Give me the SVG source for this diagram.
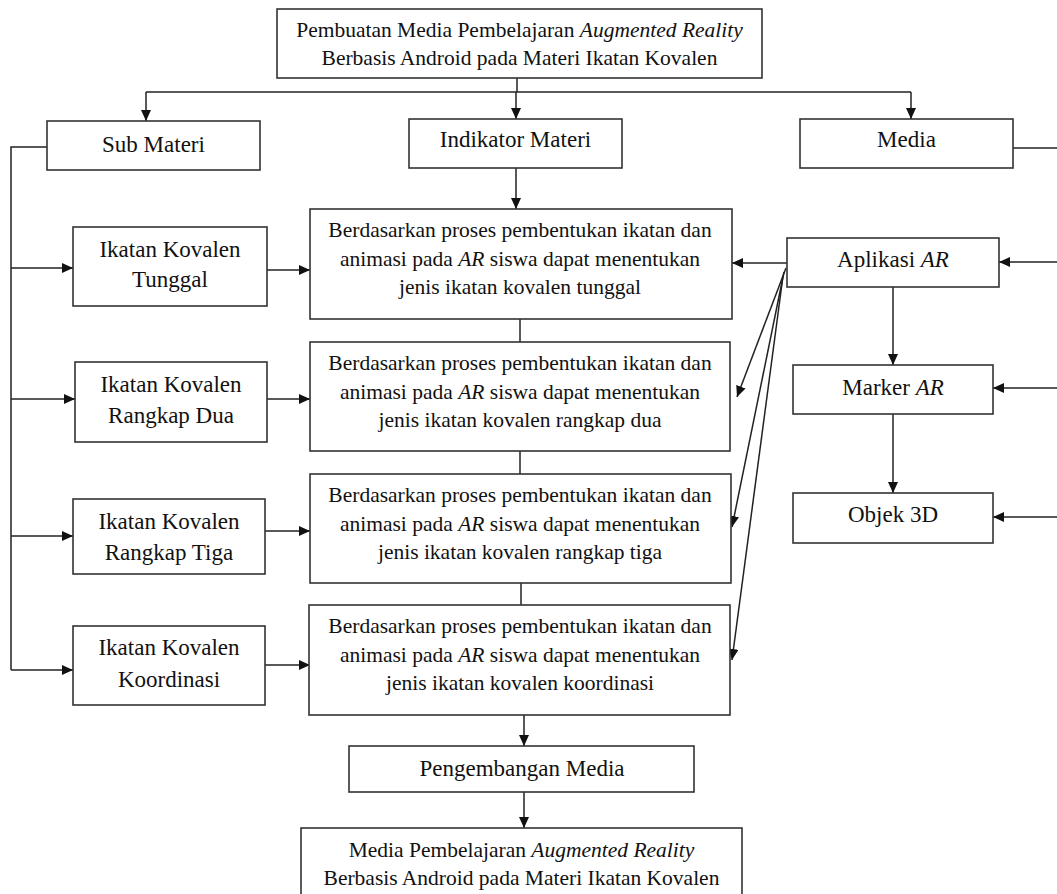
<svg xmlns="http://www.w3.org/2000/svg" width="1057" height="894" viewBox="0 0 1057 894">
<style>
rect{fill:#fff;stroke:#333;stroke-width:1.6}
text{font-family:"Liberation Serif","Times New Roman",serif;fill:#111;text-anchor:middle}
.l{font-size:21.5px}
.m{font-size:23px}
.c line,.c polyline{stroke:#222;stroke-width:1.5;fill:none}
.a{marker-end:url(#ah)}
</style>
<defs>
<marker id="ah" markerUnits="userSpaceOnUse" markerWidth="12" markerHeight="11" refX="11" refY="5" orient="auto">
<path d="M0,0 L11,5 L0,10 z" fill="#111"/>
</marker>
</defs>
<rect x="0" y="0" width="1057" height="894" style="fill:#fff;stroke:none"/>
<g class="c" id="connectors">
<line x1="517" y1="78" x2="517" y2="92"/>
<polyline points="146,92 911,92"/>
<line class="a" x1="146" y1="92" x2="146" y2="121"/>
<line class="a" x1="516" y1="92" x2="516" y2="119"/>
<line class="a" x1="911" y1="92" x2="911" y2="119"/>
<polyline points="47,147 11,147 11,670"/>
<line class="a" x1="11" y1="268" x2="73" y2="268"/>
<line class="a" x1="11" y1="399" x2="75" y2="399"/>
<line class="a" x1="11" y1="536" x2="73" y2="536"/>
<line class="a" x1="11" y1="670" x2="73" y2="670"/>
<line class="a" x1="267" y1="270" x2="310" y2="270"/>
<line class="a" x1="267" y1="399" x2="310" y2="399"/>
<line class="a" x1="265" y1="531" x2="310" y2="531"/>
<line class="a" x1="265" y1="665" x2="310" y2="665"/>
<line class="a" x1="516" y1="168" x2="516" y2="209"/>
<line x1="520" y1="319" x2="520" y2="342"/>
<line x1="520" y1="451" x2="520" y2="474"/>
<line x1="521" y1="583" x2="521" y2="605"/>
<line class="a" x1="524" y1="715" x2="524" y2="746"/>
<line class="a" x1="524" y1="792" x2="524" y2="828"/>
<line x1="1013" y1="148" x2="1057" y2="148"/>
<line class="a" x1="1057" y1="262" x2="999" y2="262"/>
<line class="a" x1="1057" y1="388" x2="993" y2="388"/>
<line class="a" x1="1057" y1="517" x2="993" y2="517"/>
<line class="a" x1="787" y1="263" x2="732" y2="263"/>
<line class="a" x1="893" y1="287" x2="893" y2="365"/>
<line class="a" x1="893" y1="414" x2="893" y2="493"/>
<line class="a" x1="786" y1="268" x2="737" y2="397"/>
<line class="a" x1="784" y1="272" x2="732" y2="527"/>
<line class="a" x1="783" y1="276" x2="732" y2="660"/>
</g>
<g id="n-top">
<rect x="277" y="9" width="485" height="69"/>
<text class="l" x="519.5" y="37">Pembuatan Media Pembelajaran <tspan font-style="italic">Augmented Reality</tspan></text>
<text class="l" x="519.5" y="65">Berbasis Android pada Materi Ikatan Kovalen</text>
</g>
<g id="n-submateri">
<rect x="47" y="121" width="213" height="49"/>
<text class="m" x="153.5" y="152">Sub Materi</text>
</g>
<g id="n-indikator">
<rect x="409" y="119" width="213" height="49"/>
<text class="m" x="515.5" y="147">Indikator Materi</text>
</g>
<g id="n-media">
<rect x="800" y="119" width="213" height="49"/>
<text class="m" x="906.5" y="147">Media</text>
</g>
<g id="n-tunggal">
<rect x="73" y="227" width="194" height="79"/>
<text class="m" x="170" y="257">Ikatan Kovalen</text>
<text class="m" x="170" y="287">Tunggal</text>
</g>
<g id="n-dua">
<rect x="75" y="362" width="192" height="80"/>
<text class="m" x="171" y="392">Ikatan Kovalen</text>
<text class="m" x="171" y="423">Rangkap Dua</text>
</g>
<g id="n-tiga">
<rect x="73" y="499" width="192" height="75"/>
<text class="m" x="169" y="529">Ikatan Kovalen</text>
<text class="m" x="169" y="560">Rangkap Tiga</text>
</g>
<g id="n-koordinasi">
<rect x="73" y="626" width="192" height="79"/>
<text class="m" x="169" y="655">Ikatan Kovalen</text>
<text class="m" x="169" y="687">Koordinasi</text>
</g>
<g id="n-ind1">
<rect x="310" y="209" width="422" height="110"/>
<text class="l" x="520" y="237">Berdasarkan proses pembentukan ikatan dan</text>
<text class="l" x="520" y="266">animasi pada <tspan font-style="italic">AR</tspan> siswa dapat menentukan</text>
<text class="l" x="520" y="294">jenis ikatan kovalen tunggal</text>
</g>
<g id="n-ind2">
<rect x="310" y="342" width="420" height="109"/>
<text class="l" x="520" y="370">Berdasarkan proses pembentukan ikatan dan</text>
<text class="l" x="520" y="399">animasi pada <tspan font-style="italic">AR</tspan> siswa dapat menentukan</text>
<text class="l" x="520" y="427">jenis ikatan kovalen rangkap dua</text>
</g>
<g id="n-ind3">
<rect x="310" y="474" width="421" height="109"/>
<text class="l" x="520" y="502">Berdasarkan proses pembentukan ikatan dan</text>
<text class="l" x="520" y="531">animasi pada <tspan font-style="italic">AR</tspan> siswa dapat menentukan</text>
<text class="l" x="520" y="559">jenis ikatan kovalen rangkap tiga</text>
</g>
<g id="n-ind4">
<rect x="309" y="605" width="421" height="110"/>
<text class="l" x="520" y="633">Berdasarkan proses pembentukan ikatan dan</text>
<text class="l" x="520" y="662">animasi pada <tspan font-style="italic">AR</tspan> siswa dapat menentukan</text>
<text class="l" x="520" y="690">jenis ikatan kovalen koordinasi</text>
</g>
<g id="n-aplikasi">
<rect x="787" y="238" width="212" height="49"/>
<text class="m" x="893" y="267">Aplikasi <tspan font-style="italic">AR</tspan></text>
</g>
<g id="n-marker">
<rect x="793" y="365" width="200" height="49"/>
<text class="m" x="893" y="395">Marker <tspan font-style="italic">AR</tspan></text>
</g>
<g id="n-objek">
<rect x="793" y="493" width="200" height="50"/>
<text class="m" x="893" y="522">Objek 3D</text>
</g>
<g id="n-pengembangan">
<rect x="349" y="746" width="345" height="46"/>
<text class="m" x="522" y="776">Pengembangan Media</text>
</g>
<g id="n-hasil">
<rect x="301" y="828" width="441" height="80"/>
<text class="l" x="521.5" y="857">Media Pembelajaran <tspan font-style="italic">Augmented Reality</tspan></text>
<text class="l" x="521.5" y="885">Berbasis Android pada Materi Ikatan Kovalen</text>
</g>
</svg>
